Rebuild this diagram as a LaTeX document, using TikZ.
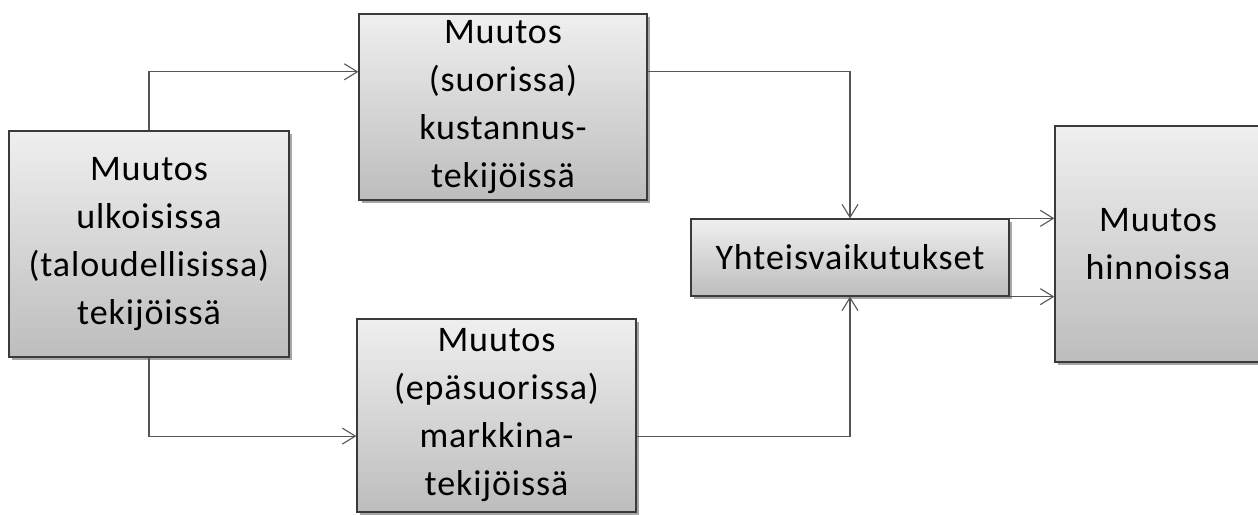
\documentclass[tikz,border=0pt]{standalone}
\usepackage{fontspec}
\setmainfont{Carlito}[LetterSpace=2.5]
\usetikzlibrary{arrows.meta,shadows,calc}
\definecolor{boxtop}{HTML}{EFEFEF}
\definecolor{boxbot}{HTML}{BDBDBD}
\definecolor{boxline}{HTML}{3A3A3A}
\definecolor{wire}{HTML}{555555}
\tikzset{
  factor/.style={draw=boxline, line width=1.3pt, top color=boxtop, bottom color=boxbot,
    align=center, inner sep=0pt,
    font=\fontsize{36}{48}\selectfont,
    drop shadow={shadow xshift=2.5pt, shadow yshift=-2.5pt, opacity=0.35, fill=black}},
  wirearrow/.style={draw=wire, line width=1.1pt, -{Straight Barb[length=13pt,width=16pt,line width=1.1pt]}}
}
\begin{document}
\begin{tikzpicture}[x=1pt,y=-1pt]
\useasboundingbox (0,0) rectangle (1258,514);
% boxes
\node[factor, minimum width=280pt, minimum height=226pt] (L) at (149,244)
  {Muutos\\ulkoisissa\\(taloudellisissa)\\tekijöissä};
\node[factor, minimum width=288pt, minimum height=186pt] (T) at (503,107)
  {Muutos\\(suorissa)\\kustannus-\\tekijöissä};
\node[factor, minimum width=279pt, minimum height=193pt] (B) at (496.5,415.5)
  {Muutos\\(epäsuorissa)\\markkina-\\tekijöissä};
\node[factor, minimum width=318pt, minimum height=77pt] (Y) at (850,257.5)
  {Yhteisvaikutukset};
\node[factor, minimum width=206pt, minimum height=236pt] (R) at (1158,244)
  {Muutos\\hinnoissa};
% connectors
\coordinate (tin) at ($(T.north west)!0.312!(T.south west)$);
\coordinate (tout) at ($(T.north east)!0.312!(T.south east)$);
\coordinate (bin) at ($(B.north west)!0.606!(B.south west)$);
\coordinate (bout) at ($(B.north east)!0.606!(B.south east)$);
\draw[wirearrow] (L.north) |- (tin);
\draw[wirearrow] (L.south) |- (bin);
\draw[wirearrow] (tout) -| (Y.north);
\draw[wirearrow] (bout) -| (Y.south);
\draw[wirearrow] (Y.north east) -- (R.west |- Y.north east);
\draw[wirearrow] (Y.south east) -- (R.west |- Y.south east);
\end{tikzpicture}
\end{document}
